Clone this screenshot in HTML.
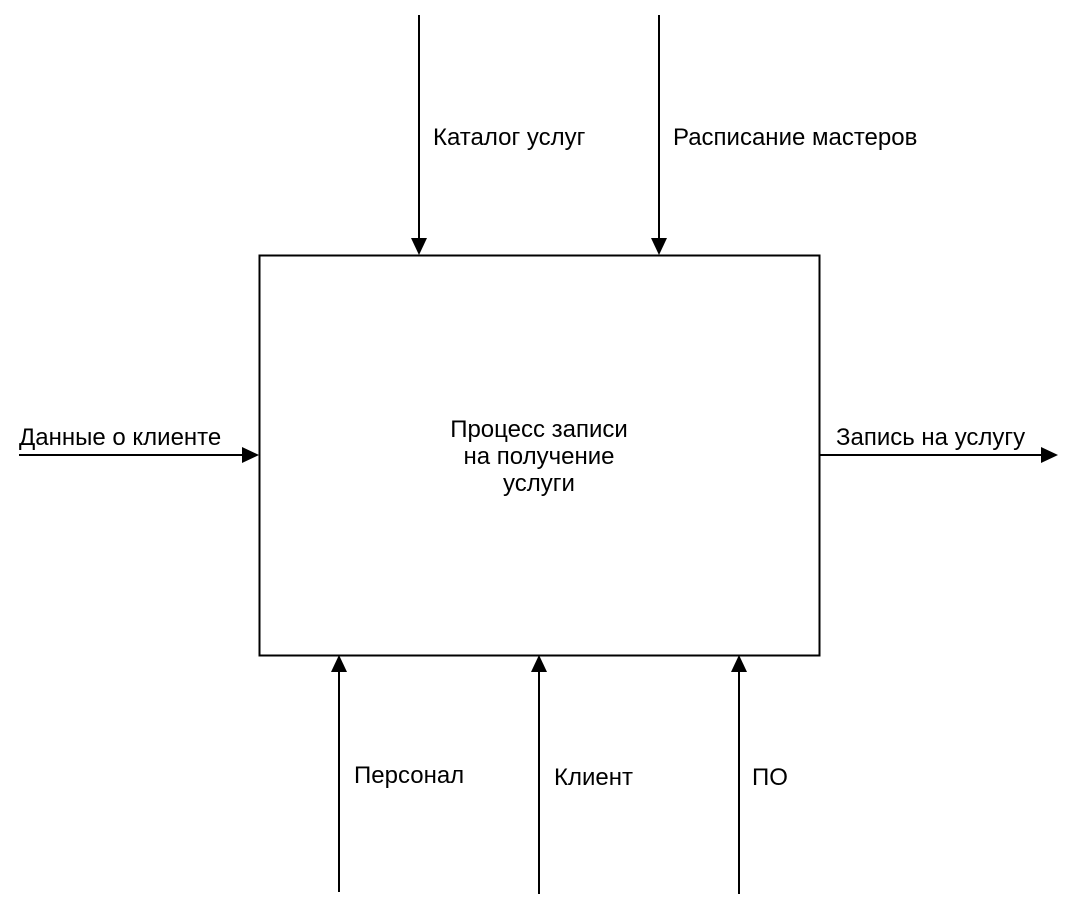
<!DOCTYPE html>
<html><head><meta charset="utf-8"><style>
html,body{margin:0;padding:0;background:#fff;}
svg text{font-family:"Liberation Sans",Arial,sans-serif;font-size:24px;fill:#000;}
</style></head><body>
<svg width="1076" height="912" viewBox="0 0 1076 912" xmlns="http://www.w3.org/2000/svg">
<rect x="0" y="0" width="1076" height="912" fill="#fff"/>
<rect x="259.5" y="255.5" width="560" height="400" fill="#fff" stroke="#000" stroke-width="2"/>
<g stroke="#000" stroke-width="2">
<line x1="419" y1="15" x2="419" y2="242"/>
<line x1="659" y1="15" x2="659" y2="242"/>
<line x1="19" y1="455" x2="246" y2="455"/>
<line x1="820" y1="455" x2="1045" y2="455"/>
<line x1="339" y1="892" x2="339" y2="669"/>
<line x1="539" y1="894" x2="539" y2="669"/>
<line x1="739" y1="894" x2="739" y2="669"/>
</g>
<g fill="#000">
<polygon points="411,238 427,238 419,255"/>
<polygon points="651,238 667,238 659,255"/>
<polygon points="242,447 242,463 259,455"/>
<polygon points="1041,447 1041,463 1058,455"/>
<polygon points="331,672 347,672 339,655"/>
<polygon points="531,672 547,672 539,655"/>
<polygon points="731,672 747,672 739,655"/>
</g>
<text x="433" y="145">Каталог услуг</text>
<text x="673" y="145">Расписание мастеров</text>
<text x="19" y="445">Данные о клиенте</text>
<text x="836" y="445">Запись на услугу</text>
<text x="539" y="437" text-anchor="middle">Процесс записи</text>
<text x="539" y="464" text-anchor="middle">на получение</text>
<text x="539" y="491" text-anchor="middle">услуги</text>
<text x="354" y="783">Персонал</text>
<text x="554" y="785">Клиент</text>
<text x="752" y="785">ПО</text>
</svg>
</body></html>
